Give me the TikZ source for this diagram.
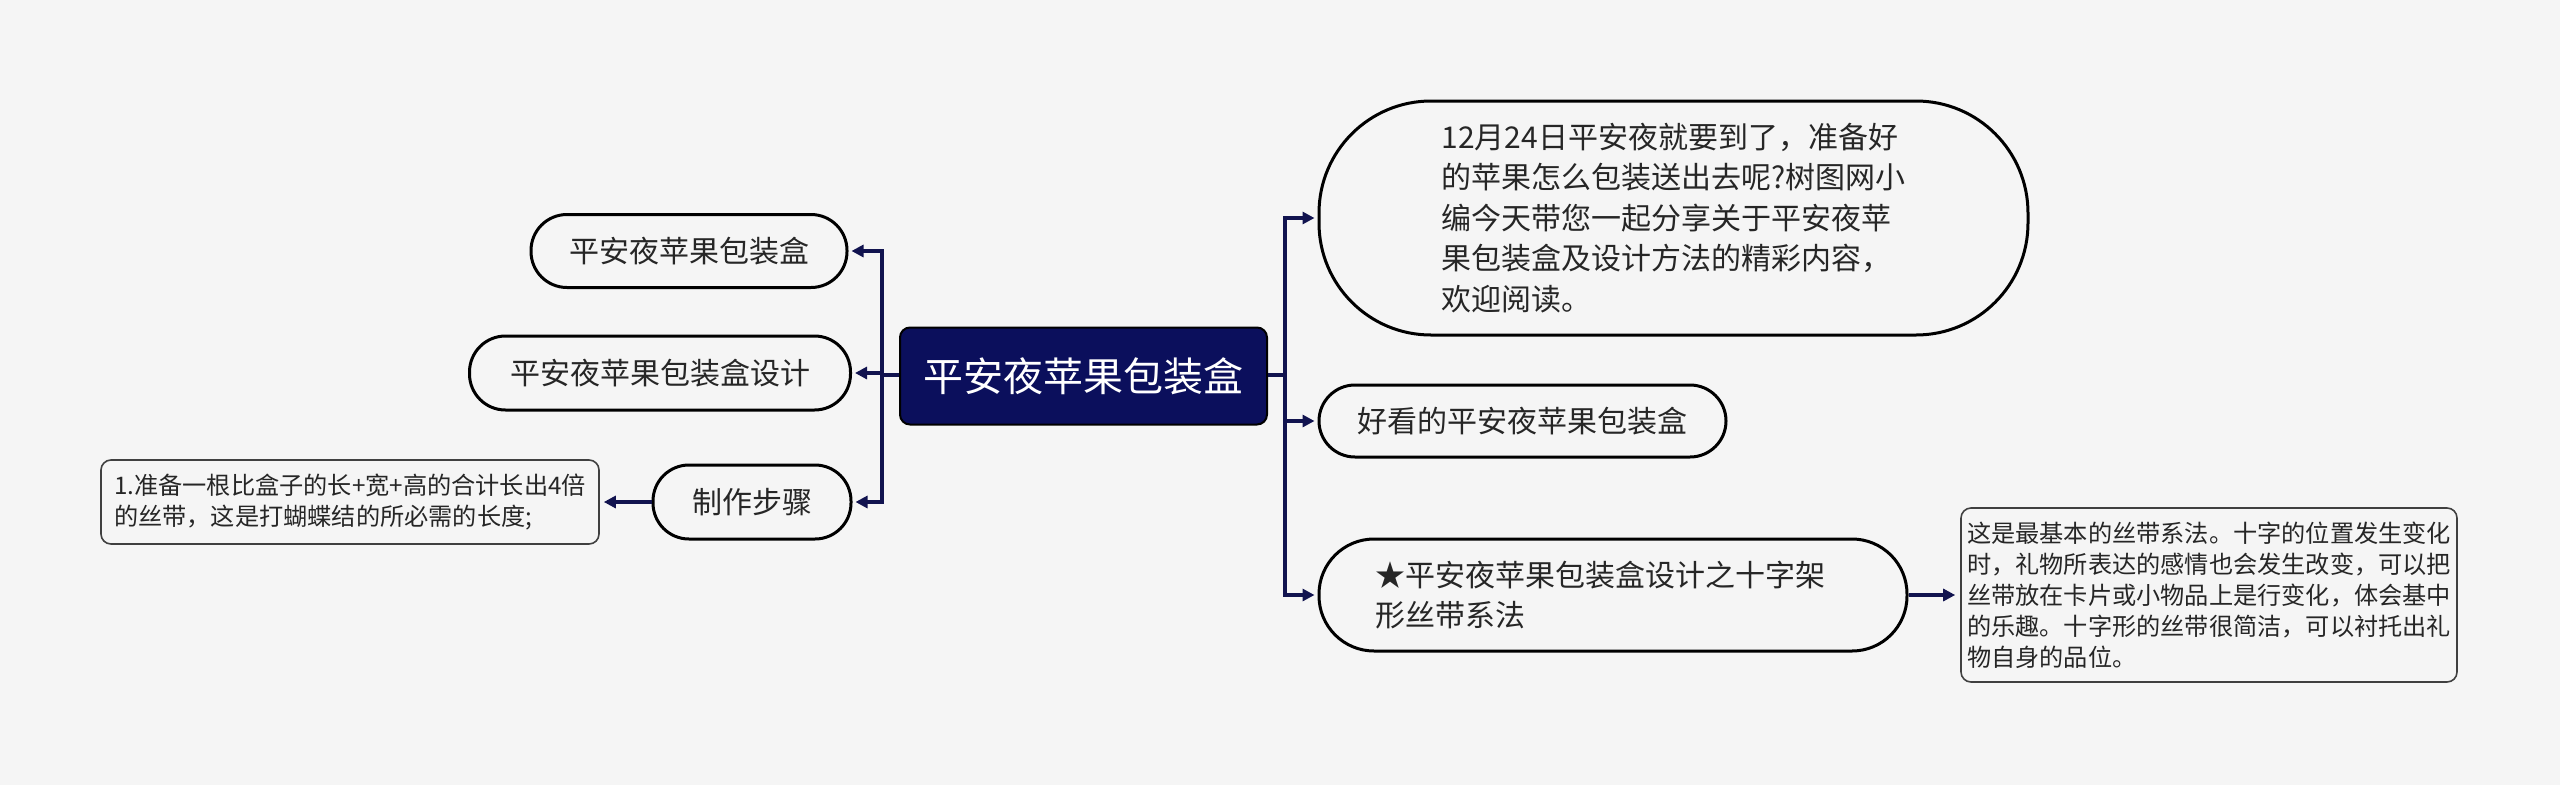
\documentclass[tikz,border=0pt]{standalone}
\usepackage{fontspec}
\setmainfont{Noto Sans CJK SC}
\usetikzlibrary{arrows.meta}
\definecolor{bgc}{HTML}{F5F5F5}
\definecolor{navy}{HTML}{0B0F5C}
\definecolor{linec}{HTML}{11134F}
\tikzset{
  pill/.style={draw=black, line width=3pt, fill=bgc, rounded corners=36pt, inner sep=0pt, align=left,
    font=\fontsize{30}{40.5}\selectfont, text=black!85},
  centralbox/.style={draw=black, line width=2pt, fill=navy, rounded corners=10pt, text=white,
    font=\fontsize{40}{48}\selectfont, minimum width=367pt, minimum height=97pt, inner sep=0pt},
  notebox/.style={draw=black!75, line width=1.6pt, fill=bgc, rounded corners=10pt, inner sep=0pt, align=left,
    font=\fontsize{24.2}{31}\selectfont, text=black!85},
  conn/.style={draw=linec, line width=3.2pt, -{Triangle[length=12pt,width=12pt]}},
  plain/.style={draw=linec, line width=3.2pt}
}
\begin{document}
\begin{tikzpicture}[x=1pt,y=-1pt]
\useasboundingbox (0,0) rectangle (2560,785);
\fill[bgc] (0,0) rectangle (2560,785);

\node[centralbox] (c) at (1083.5,376) {平安夜苹果包装盒};

\node[pill, minimum width=316pt, minimum height=73pt] (l1) at (689,251) {平安夜苹果包装盒};
\node[pill, minimum width=381pt, minimum height=74pt] (l2) at (660,373) {平安夜苹果包装盒设计};
\node[pill, minimum width=198pt, minimum height=74pt] (l3) at (752,502) {制作步骤};
\node[notebox, minimum width=498pt, minimum height=84pt] (lb) at (350,502)
  {1.准备一根比盒子的长+宽+高的合计长出4倍\\的丝带，这是打蝴蝶结的所必需的长度;};

\node[pill, rounded corners=112pt, minimum width=709pt, minimum height=234pt] (r1) at (1673.5,218)
  {12月24日平安夜就要到了，准备好\\的苹果怎么包装送出去呢?树图网小\\编今天带您一起分享关于平安夜苹\\果包装盒及设计方法的精彩内容，\\欢迎阅读。};
\node[pill, minimum width=407pt, minimum height=72pt] (r2) at (1522.5,421) {好看的平安夜苹果包装盒};
\node[pill, rounded corners=55pt, minimum width=588pt, minimum height=112pt] (r3) at (1613,595)
  {★平安夜苹果包装盒设计之十字架\hspace*{26pt}\\形丝带系法};
\node[notebox, minimum width=496pt, minimum height=174pt] (fb) at (2209,595)
  {这是最基本的丝带系法。十字的位置发生变化\\时，礼物所表达的感情也会发生改变，可以把\\丝带放在卡片或小物品上是行变化，体会基中\\的乐趣。十字形的丝带很简洁，可以衬托出礼\\物自身的品位。};

\coordinate (lt) at (882,375);
\coordinate (rt) at (1285,375);

\draw[plain] (c.west |- lt) -- (lt);
\draw[conn, shorten >=3pt] (lt) |- (l1.east);
\draw[conn, shorten >=3pt] (lt) |- (l2.east);
\draw[conn, shorten >=3pt] (lt) |- (l3.east);
\draw[conn, shorten >=4pt] (l3.west) -- (lb.east);

\draw[plain] (c.east |- rt) -- (rt);
\draw[conn, shorten >=3pt] (rt) |- (r1.west);
\draw[conn, shorten >=3pt] (rt) |- (r2.west);
\draw[conn, shorten >=3pt] (rt) |- (r3.west);
\draw[conn, shorten >=5pt] (r3.east) -- (fb.west);
\end{tikzpicture}
\end{document}
